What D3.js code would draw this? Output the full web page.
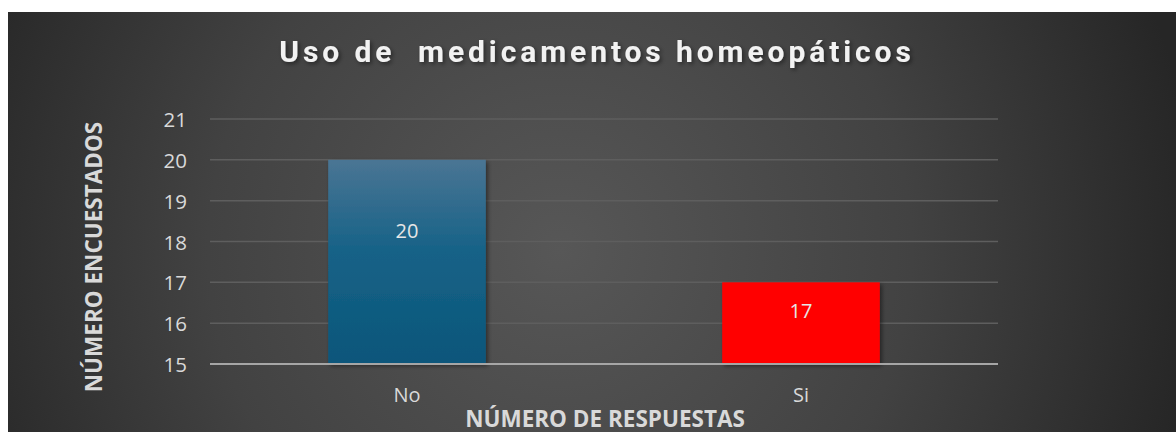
<!DOCTYPE html>
<html>
<head>
<meta charset="utf-8">
<script src="https://cdn.jsdelivr.net/npm/d3@7"></script>
<style>
  html, body { margin: 0; padding: 0; background: #fff; }
  svg { display: block; }
</style>
</head>
<body>
<svg id="chart" width="1176" height="432"></svg>
<script>
// data
const categories = ["No", "Si"];
const values = [20, 17];
const yTicks = [15, 16, 17, 18, 19, 20, 21];
const labelAt = [18.27, 16.32]; // where Excel put the value labels (in axis units)

const svg = d3.select("#chart");
const width = +svg.attr("width");
const height = +svg.attr("height");

const plot = { left: 210, right: 998, top: 119, bottom: 364 };
const font = "'Open Sans', 'Noto Sans', sans-serif";

const defs = svg.append("defs");

const bg = defs.append("radialGradient")
    .attr("id", "bgGrad")
    .attr("gradientUnits", "userSpaceOnUse")
    .attr("cx", 560).attr("cy", 250).attr("r", 640);
bg.append("stop").attr("offset", "0%").attr("stop-color", "#575757");
bg.append("stop").attr("offset", "55%").attr("stop-color", "#424242");
bg.append("stop").attr("offset", "100%").attr("stop-color", "#262626");

const blue = defs.append("linearGradient")
    .attr("id", "blueGrad")
    .attr("x1", 0).attr("y1", 0).attr("x2", 0).attr("y2", 1);
blue.append("stop").attr("offset", "0%").attr("stop-color", "#4a7594");
blue.append("stop").attr("offset", "45%").attr("stop-color", "#166287");
blue.append("stop").attr("offset", "100%").attr("stop-color", "#0b567a");

const shadow = defs.append("filter").attr("id", "shadow")
    .attr("x", "-10%").attr("y", "-10%").attr("width", "130%").attr("height", "130%");
shadow.append("feDropShadow").attr("dx", 2).attr("dy", 2).attr("stdDeviation", 2)
    .attr("flood-color", "#000").attr("flood-opacity", 0.45);

svg.append("rect")
    .attr("x", 8).attr("y", 12)
    .attr("width", width - 8).attr("height", height - 12)
    .attr("fill", "url(#bgGrad)");

const x = d3.scaleBand()
    .domain(categories)
    .range([plot.left, plot.right])
    .paddingInner(0.6)
    .paddingOuter(0.3);

const y = d3.scaleLinear()
    .domain([15, 21])
    .range([plot.bottom, plot.top]);

// gridlines
svg.append("g")
    .selectAll("line")
    .data(yTicks.slice(1))
    .join("line")
    .attr("x1", plot.left).attr("x2", plot.right)
    .attr("y1", d => y(d)).attr("y2", d => y(d))
    .attr("stroke", "#5e5e5e")
    .attr("stroke-width", 1.5);

// bars
const barColors = ["url(#blueGrad)", "#ff0000"];
svg.append("g")
    .selectAll("rect")
    .data(values)
    .join("rect")
    .attr("x", (d, i) => x(categories[i]))
    .attr("y", d => y(d))
    .attr("width", x.bandwidth())
    .attr("height", d => y(15) - y(d))
    .attr("fill", (d, i) => barColors[i])
    .attr("filter", "url(#shadow)");

// baseline
svg.append("line")
    .attr("x1", plot.left).attr("x2", plot.right)
    .attr("y1", y(15)).attr("y2", y(15))
    .attr("stroke", "#a6a6a6")
    .attr("stroke-width", 2);

// value labels
svg.append("g")
    .selectAll("text")
    .data(values)
    .join("text")
    .attr("x", (d, i) => x(categories[i]) + x.bandwidth() / 2)
    .attr("y", (d, i) => y(labelAt[i]))
    .attr("text-anchor", "middle")
    .attr("dominant-baseline", "central")
    .style("font-family", font)
    .style("font-size", "20px")
    .style("fill", "#e6e6e6")
    .text(d => d);

// y tick labels
svg.append("g")
    .selectAll("text")
    .data(yTicks)
    .join("text")
    .attr("x", 187)
    .attr("y", d => y(d))
    .attr("text-anchor", "end")
    .attr("dominant-baseline", "central")
    .style("font-family", font)
    .style("font-size", "20.5px")
    .style("fill", "#d9d9d9")
    .text(d => d);

// x tick labels
svg.append("g")
    .selectAll("text")
    .data(categories)
    .join("text")
    .attr("x", d => x(d) + x.bandwidth() / 2)
    .attr("y", 394)
    .attr("text-anchor", "middle")
    .attr("dominant-baseline", "central")
    .style("font-family", font)
    .style("font-size", "20px")
    .style("fill", "#d9d9d9")
    .text(d => d);

// axis titles
svg.append("text")
    .attr("x", 605).attr("y", 418)
    .attr("text-anchor", "middle")
    .attr("dominant-baseline", "central")
    .style("font-family", font)
    .style("font-weight", "bold")
    .style("font-size", "22.5px")
    .style("fill", "#d9d9d9")
    .text("NÚMERO DE RESPUESTAS");

svg.append("text")
    .attr("transform", "translate(93, 257) rotate(-90)")
    .attr("text-anchor", "middle")
    .attr("dominant-baseline", "central")
    .style("font-family", font)
    .style("font-weight", "bold")
    .style("font-size", "22.5px")
    .style("fill", "#d9d9d9")
    .text("NÚMERO ENCUESTADOS");

// title
svg.append("text")
    .attr("x", 597).attr("y", 51)
    .attr("text-anchor", "middle")
    .attr("dominant-baseline", "central")
    .attr("filter", "url(#shadow)")
    .style("font-family", "Roboto, sans-serif")
    .style("font-weight", "bold")
    .style("font-size", "30px")
    .style("letter-spacing", "3.9px")
    .style("white-space", "pre")
    .style("fill", "#f2f2f2")
    .text("Uso de  medicamentos homeopáticos");
</script>
</body>
</html>
